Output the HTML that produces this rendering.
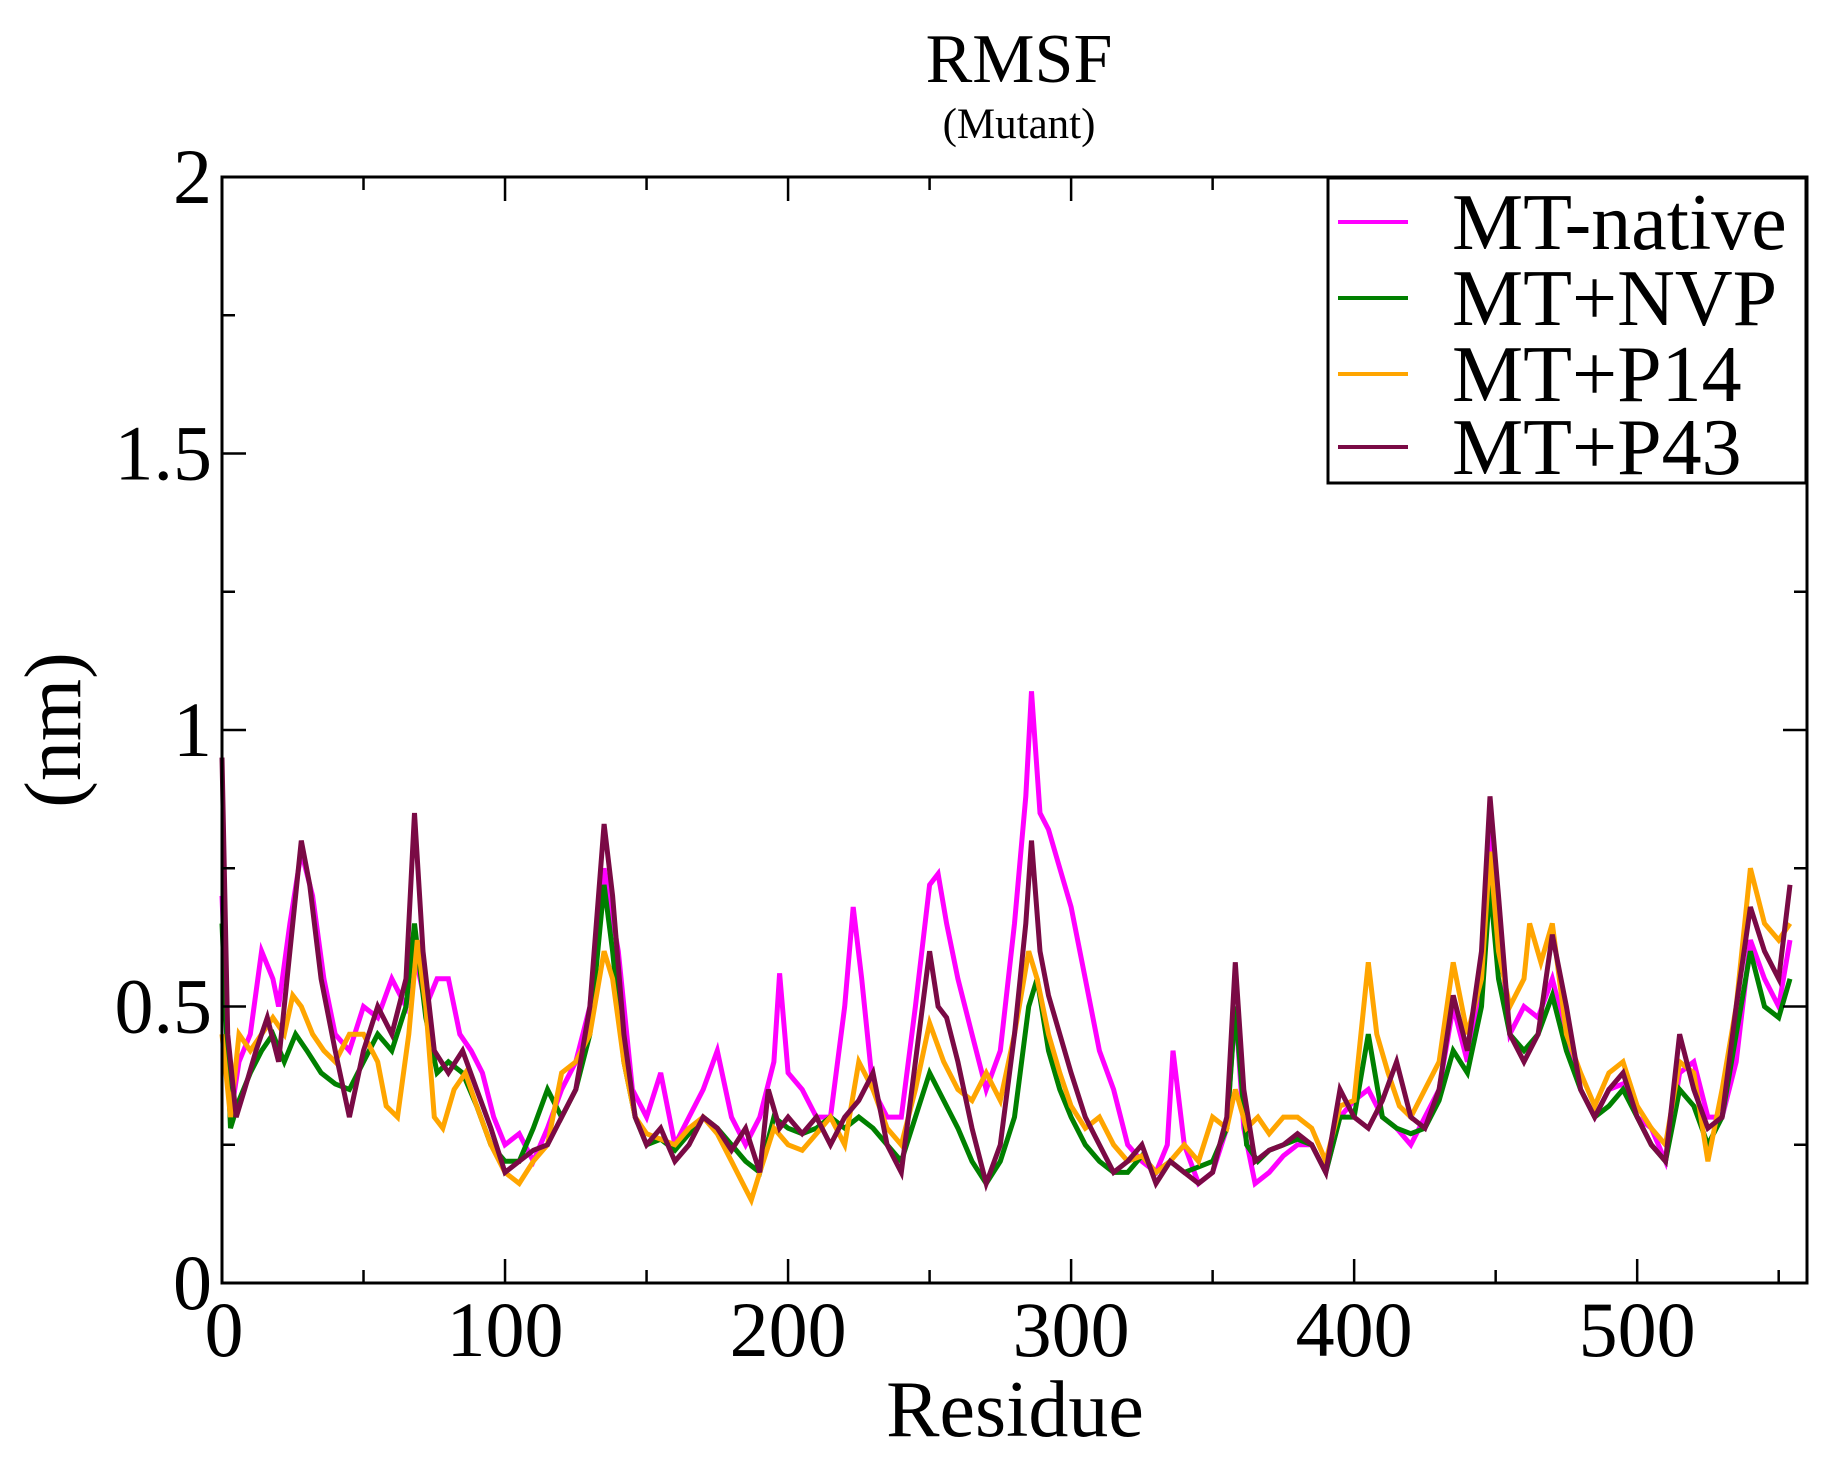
<!DOCTYPE html>
<html><head><meta charset="utf-8"><style>
html,body{margin:0;padding:0;background:#fff;}
svg text{font-family:"Liberation Serif",serif;fill:#000;}
</style></head><body>
<svg id="chart" width="1838" height="1458" viewBox="0 0 1838 1458" xmlns="http://www.w3.org/2000/svg">
<text x="1019" y="82" font-size="70" text-anchor="middle">RMSF</text>
<text x="1019" y="138" font-size="43" text-anchor="middle">(Mutant)</text>
<text x="1015" y="1436" font-size="80" text-anchor="middle">Residue</text>
<text x="0" y="0" font-size="80" text-anchor="middle" transform="translate(80,730) rotate(-90)">(nm)</text>
<g id="series"></g>
<g id="axes"></g>
<g id="legend">
<rect x="1328" y="178" width="478" height="305" fill="#fff" stroke="#000" stroke-width="3"/>
</g>
</svg>
<script>
const seriesNames = ["MT-native","MT+NVP","MT+P14","MT+P43"];
const seriesColors = ["#ff00ff","#008000","#ffa500","#7a0a45"];
const xTicks = [0,100,200,300,400,500];
const yTicks = [0,0.5,1,1.5,2];
const yTickLabels = ["0","0.5","1","1.5","2"];

const nativeRes = [0,3,6,10,14,18,20,24,28,32,36,40,45,50,55,60,65,68,72,76,80,84,88,92,96,100,105,110,115,120,125,130,135,140,145,150,155,160,165,170,175,180,185,190,195,197,200,205,210,215,220,223,226,230,235,240,245,250,253,256,260,265,270,275,280,284,286,289,292,296,300,305,310,315,320,325,330,334,336,340,345,350,355,358,361,365,370,375,380,385,390,395,400,405,410,415,420,425,430,435,440,445,448,451,455,460,465,470,475,480,485,490,495,500,505,510,515,520,525,530,535,540,545,550,554];
const nativeVals = [0.7,0.3,0.4,0.45,0.6,0.55,0.5,0.65,0.78,0.7,0.55,0.45,0.42,0.5,0.48,0.55,0.5,0.6,0.5,0.55,0.55,0.45,0.42,0.38,0.3,0.25,0.27,0.22,0.28,0.35,0.4,0.5,0.75,0.6,0.35,0.3,0.38,0.25,0.3,0.35,0.42,0.3,0.25,0.3,0.4,0.56,0.38,0.35,0.3,0.3,0.5,0.68,0.55,0.35,0.3,0.3,0.5,0.72,0.74,0.65,0.55,0.45,0.35,0.42,0.65,0.88,1.07,0.85,0.82,0.75,0.68,0.55,0.42,0.35,0.25,0.22,0.2,0.25,0.42,0.25,0.18,0.2,0.28,0.5,0.28,0.18,0.2,0.23,0.25,0.25,0.2,0.3,0.33,0.35,0.3,0.28,0.25,0.3,0.35,0.5,0.4,0.55,0.82,0.65,0.45,0.5,0.48,0.55,0.45,0.35,0.3,0.35,0.36,0.3,0.28,0.22,0.38,0.4,0.3,0.3,0.4,0.62,0.55,0.5,0.62];

const nvpRes = [0,3,6,10,14,18,22,26,30,35,40,45,50,55,60,65,68,72,76,80,85,90,95,100,105,110,115,120,125,130,135,138,142,146,150,155,160,165,170,175,180,185,190,195,200,205,210,215,220,225,230,235,240,245,250,255,260,265,270,275,280,285,288,292,296,300,305,310,315,320,325,330,335,340,345,350,355,358,362,366,370,375,380,385,390,395,400,405,410,415,420,425,430,435,440,445,448,451,455,460,465,470,475,480,485,490,495,500,505,510,515,520,525,530,535,540,545,550,554];
const nvpVals = [0.65,0.28,0.33,0.38,0.42,0.45,0.4,0.45,0.42,0.38,0.36,0.35,0.4,0.45,0.42,0.5,0.65,0.48,0.38,0.4,0.38,0.32,0.25,0.22,0.22,0.28,0.35,0.3,0.35,0.45,0.72,0.6,0.4,0.3,0.25,0.26,0.24,0.27,0.3,0.28,0.25,0.22,0.2,0.3,0.28,0.27,0.28,0.3,0.28,0.3,0.28,0.25,0.22,0.3,0.38,0.33,0.28,0.22,0.18,0.22,0.3,0.5,0.55,0.42,0.35,0.3,0.25,0.22,0.2,0.2,0.23,0.2,0.22,0.2,0.21,0.22,0.28,0.5,0.25,0.22,0.24,0.25,0.26,0.25,0.2,0.3,0.3,0.45,0.3,0.28,0.27,0.28,0.33,0.42,0.38,0.5,0.72,0.55,0.45,0.42,0.45,0.52,0.42,0.35,0.3,0.32,0.35,0.3,0.25,0.22,0.35,0.32,0.25,0.3,0.45,0.6,0.5,0.48,0.55];

const p14Res = [0,3,6,10,14,18,22,25,28,32,36,40,45,50,55,58,62,66,69,72,75,78,82,86,90,95,100,105,110,115,120,125,130,135,138,142,146,150,155,160,165,170,175,180,185,187,190,195,200,205,210,215,220,225,230,235,240,245,250,255,260,265,270,275,280,285,288,292,296,300,305,310,315,320,325,330,335,340,345,350,355,358,362,366,370,375,380,385,390,395,400,405,408,412,416,420,425,430,435,440,445,448,451,455,460,462,466,470,475,480,485,490,495,500,505,510,515,520,525,530,535,540,545,550,554];
const p14Vals = [0.45,0.3,0.45,0.42,0.45,0.48,0.45,0.52,0.5,0.45,0.42,0.4,0.45,0.45,0.4,0.32,0.3,0.45,0.62,0.5,0.3,0.28,0.35,0.38,0.32,0.25,0.2,0.18,0.22,0.25,0.38,0.4,0.45,0.6,0.55,0.4,0.3,0.27,0.26,0.25,0.28,0.3,0.27,0.22,0.17,0.15,0.2,0.28,0.25,0.24,0.27,0.3,0.25,0.4,0.35,0.28,0.25,0.35,0.47,0.4,0.35,0.33,0.38,0.33,0.45,0.6,0.55,0.45,0.38,0.32,0.28,0.3,0.25,0.22,0.23,0.2,0.22,0.25,0.22,0.3,0.28,0.35,0.28,0.3,0.27,0.3,0.3,0.28,0.22,0.32,0.33,0.58,0.45,0.38,0.32,0.3,0.35,0.4,0.58,0.45,0.55,0.78,0.6,0.5,0.55,0.65,0.58,0.65,0.45,0.38,0.32,0.38,0.4,0.32,0.28,0.25,0.4,0.38,0.22,0.35,0.5,0.75,0.65,0.62,0.65];

const p43Res = [0,2,5,8,12,16,20,24,28,31,35,40,45,50,55,60,65,68,71,75,80,85,90,95,100,105,110,115,120,125,130,135,138,142,146,150,155,160,165,170,175,180,185,190,193,197,200,205,210,215,220,225,230,235,240,245,250,253,256,260,265,270,275,280,284,286,289,292,296,300,305,310,315,320,325,330,335,340,345,350,355,358,361,365,370,375,380,385,390,395,400,405,410,415,420,425,430,435,440,445,448,451,455,460,465,470,475,480,485,490,495,500,505,510,515,520,525,530,535,540,545,550,554];
const p43Vals = [0.95,0.45,0.3,0.35,0.42,0.48,0.4,0.6,0.8,0.72,0.55,0.42,0.3,0.42,0.5,0.45,0.55,0.85,0.6,0.42,0.38,0.42,0.35,0.28,0.2,0.22,0.24,0.25,0.3,0.35,0.5,0.83,0.7,0.45,0.3,0.25,0.28,0.22,0.25,0.3,0.28,0.24,0.28,0.2,0.35,0.28,0.3,0.27,0.3,0.25,0.3,0.33,0.38,0.25,0.2,0.4,0.6,0.5,0.48,0.4,0.28,0.18,0.25,0.45,0.65,0.8,0.6,0.52,0.45,0.38,0.3,0.25,0.2,0.22,0.25,0.18,0.22,0.2,0.18,0.2,0.3,0.58,0.35,0.22,0.24,0.25,0.27,0.25,0.2,0.35,0.3,0.28,0.33,0.4,0.3,0.28,0.35,0.52,0.42,0.6,0.88,0.7,0.45,0.4,0.45,0.63,0.5,0.35,0.3,0.35,0.38,0.3,0.25,0.22,0.45,0.35,0.28,0.3,0.5,0.68,0.6,0.55,0.72];

const seriesRes = [nativeRes, nvpRes, p14Res, p43Res];
const seriesVals = [nativeVals, nvpVals, p14Vals, p43Vals];

const X0 = 222, X1 = 1807, Y0 = 1283, Y1 = 177;
const XMAX = 560, YMAX = 2;
function xs(v){ return X0 + v/XMAX*(X1-X0); }
function ys(v){ return Y0 - v/YMAX*(Y0-Y1); }
const NS = "http://www.w3.org/2000/svg";
const sg = document.getElementById('series');
for (let s=0; s<4; s++){
  const p = document.createElementNS(NS,'path');
  let d = '';
  seriesRes[s].forEach((r,i)=>{ d += (i?'L':'M') + xs(r).toFixed(1) + ' ' + ys(seriesVals[s][i]).toFixed(1); });
  p.setAttribute('d', d);
  p.setAttribute('fill','none');
  p.setAttribute('stroke', seriesColors[s]);
  p.setAttribute('stroke-width','5');
  p.setAttribute('stroke-linejoin','miter');
  
  
  sg.appendChild(p);
}
const ag = document.getElementById('axes');
function line(x1,y1,x2,y2,w,name){
  const l = document.createElementNS(NS,'line');
  l.setAttribute('x1',x1); l.setAttribute('y1',y1); l.setAttribute('x2',x2); l.setAttribute('y2',y2);
  l.setAttribute('stroke','#000'); l.setAttribute('stroke-width',w);
  
  
  ag.appendChild(l);
}
function text(x,y,str,anchor,name){
  const t = document.createElementNS(NS,'text');
  t.setAttribute('x',x); t.setAttribute('y',y); t.setAttribute('font-size','78'); t.setAttribute('text-anchor',anchor);
  t.textContent = str;
  
  
  ag.appendChild(t);
}
const frame = document.createElementNS(NS,'rect');
frame.setAttribute('x',X0); frame.setAttribute('y',Y1); frame.setAttribute('width',X1-X0); frame.setAttribute('height',Y0-Y1);
frame.setAttribute('fill','none'); frame.setAttribute('stroke','#000'); frame.setAttribute('stroke-width','3');


ag.appendChild(frame);
for (let v=0; v<=XMAX; v+=50){
  const major = v%100===0; const L = major?24:13; const x = xs(v);
  line(x,Y0,x,Y0-L,2.5,'x-tick');
  line(x,Y1,x,Y1+L,2.5,'x-tick-top');
}
for (let v=0; v<=YMAX+1e-9; v+=0.25){
  const major = Math.abs(v*2-Math.round(v*2))<1e-9; const L = major?24:13; const y = ys(v);
  line(X0,y,X0+L,y,2.5,'y-tick');
  line(X1,y,X1-L,y,2.5,'y-tick-right');
}
xTicks.forEach(v=>{ text(xs(v) + (v===0?2:0), 1356, String(v), 'middle', 'x-tick-label'); });
yTicks.forEach((v,i)=>{ const dy = v===0 ? 26 : 26; text(212, ys(v)+dy, yTickLabels[i], 'end', 'y-tick-label'); });

const lg = document.getElementById('legend');
const rowY = [222,298,374,447];
for (let s=0; s<4; s++){
  const l = document.createElementNS(NS,'line');
  l.setAttribute('x1',1338); l.setAttribute('x2',1408); l.setAttribute('y1',rowY[s]); l.setAttribute('y2',rowY[s]);
  l.setAttribute('stroke',seriesColors[s]); l.setAttribute('stroke-width','4');
  
  
  lg.appendChild(l);
  const t = document.createElementNS(NS,'text');
  t.setAttribute('x',1452); t.setAttribute('y',rowY[s]+27); t.setAttribute('font-size','80');
  t.textContent = seriesNames[s];
  
  
  lg.appendChild(t);
}
</script>
</body></html>
